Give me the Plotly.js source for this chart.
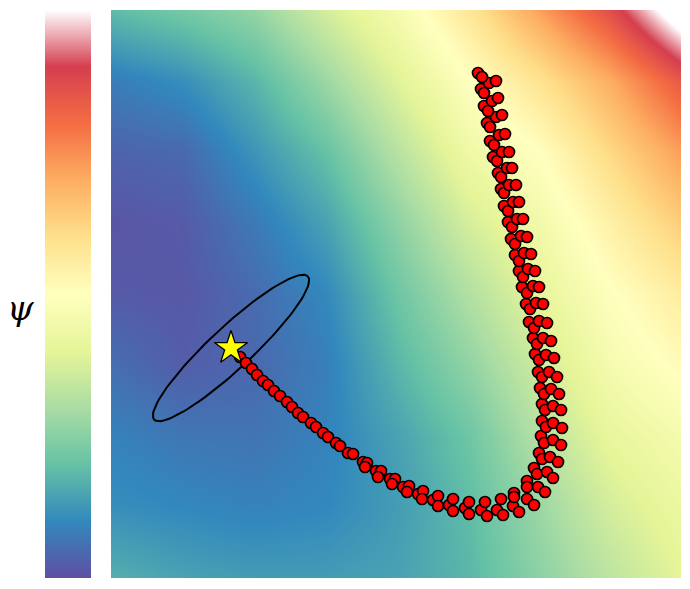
<!DOCTYPE html>
<html>
<head>
<meta charset="utf-8">
<script src="https://cdn.plot.ly/plotly-3.0.1.min.js"></script>
<style>
  html, body { margin: 0; padding: 0; background: #fff; }
  #chart { width: 690px; height: 589px; }
</style>
</head>
<body>
<div id="chart"></div>
<script>
// grid of the potential field (coarse, library interpolates)
const gridX = [0, 71, 143, 214, 285, 356, 428, 499, 570];
const gridY = [0, 71, 142, 213, 284, 355, 426, 497, 568];
const psi = [
    [0.167, 0.144, 0.133, 0.133, 0.144, 0.178, 0.256, 0.33, 0.40],
    [0.111, 0.10, 0.09, 0.10, 0.133, 0.189, 0.278, 0.37, 0.424],
    [0.09, 0.07, 0.065, 0.09, 0.144, 0.211, 0.32, 0.412, 0.459],
    [0.055, 0.025, 0.045, 0.085, 0.178, 0.261, 0.36, 0.459, 0.513],
    [0.02, 0.015, 0.05, 0.10, 0.211, 0.31, 0.406, 0.494, 0.56],
    [0.01, 0.02, 0.075, 0.144, 0.256, 0.37, 0.447, 0.547, 0.638],
    [0.035, 0.045, 0.122, 0.20, 0.32, 0.435, 0.50, 0.613, 0.725],
    [0.08, 0.111, 0.178, 0.278, 0.39, 0.494, 0.587, 0.70, 0.844],
    [0.189, 0.222, 0.267, 0.37, 0.459, 0.573, 0.72, 0.867, 1.067]
];

// trajectory samples
const trajX = [
    129, 135, 141, 146, 152, 157, 163, 169, 176, 181, 187, 192, 200, 205, 212, 217,
    225, 229, 237, 242, 252, 256, 254, 265, 270, 267, 279, 284, 281, 292, 298, 296,
    307, 312, 311, 322, 327, 327, 338, 342, 342, 354, 358, 358, 370, 374, 376, 386,
    390, 392, 402, 403, 408, 403, 416, 423, 416, 416, 427, 434, 423, 426, 436, 442,
    428, 431, 439, 447, 430, 433, 442, 450, 431, 435, 442, 451, 431, 434, 442, 450,
    429, 433, 440, 448, 427, 431, 438, 446, 424, 428, 435, 443, 422, 426, 432, 440,
    418, 423, 428, 436, 415, 419, 425, 432, 411, 416, 422, 428, 408, 412, 417, 424,
    404, 408, 413, 420, 400, 404, 410, 416, 397, 401, 406, 412, 393, 397, 402, 408,
    390, 393, 398, 405, 387, 390, 396, 401, 382, 386, 391, 398, 379, 383, 388, 394,
    376, 379, 385, 391, 373, 377, 381, 387, 370, 373, 378, 385, 367, 371
];
const trajY = [
    221, 215, 209, 203, 197, 193, 187, 182, 176, 171, 165, 161, 155, 151, 145, 141,
    135, 132, 125, 124, 116, 115, 111, 107, 107, 101, 99, 99, 94, 91, 92, 86,
    84, 87, 79, 78, 82, 72, 73, 79, 67, 70, 76, 64, 68, 76, 62, 68,
    79, 63, 72, 85, 66, 81, 79, 73, 97, 91, 91, 86, 110, 104, 106, 100,
    125, 119, 121, 116, 142, 135, 138, 133, 157, 151, 155, 150, 174, 168, 172, 168,
    190, 184, 189, 184, 206, 201, 206, 201, 224, 218, 223, 220, 240, 234, 240, 237,
    256, 250, 257, 255, 274, 269, 275, 274, 291, 285, 292, 291, 307, 301, 309, 307,
    323, 317, 325, 324, 339, 334, 342, 341, 356, 351, 359, 359, 372, 367, 376, 376,
    389, 385, 393, 393, 405, 401, 410, 410, 421, 417, 426, 426, 437, 433, 443, 444,
    455, 451, 461, 463, 472, 467, 477, 480, 489, 485, 495, 497, 505, 501
];

// start point and its spread ellipse
const startX = [120];
const startY = [230];
const ellipseCenter = [120, 230];
const ellipseAxes = [105, 21];
const ellipseAngle = 43; // degrees

// Spectral reversed, top end fading out to white
const spectral = [
    [0, '#5e4fa2'], [0.1, '#3288bd'], [0.2, '#66c2a5'], [0.3, '#abdda4'],
    [0.4, '#e6f598'], [0.5, '#ffffbf'], [0.6, '#fee08b'], [0.7, '#fdae61'],
    [0.8, '#f46d43'], [0.9, '#d53e4f'], [1, '#ffffff']
];

// outline of the ellipse
function ellipseOutline() {
    const ex = [], ey = [];
    const th = ellipseAngle * Math.PI / 180;
    for (let i = 0; i <= 120; i++) {
        const t = 2 * Math.PI * i / 120;
        const u = ellipseAxes[0] * Math.cos(t);
        const v = ellipseAxes[1] * Math.sin(t);
        ex.push(ellipseCenter[0] + u * Math.cos(th) - v * Math.sin(th));
        ey.push(ellipseCenter[1] + u * Math.sin(th) + v * Math.cos(th));
    }
    return [ex, ey];
}

const outline = ellipseOutline();

let data = [
    {
        type: 'heatmap',
        x: gridX,
        y: gridY,
        z: psi,
        zsmooth: 'best',
        zmin: 0,
        zmax: 1,
        colorscale: spectral,
        hoverinfo: 'skip',
        colorbar: {
            x: 0, xanchor: 'left', xref: 'paper',
            y: 0.5, yanchor: 'middle',
            len: 1, lenmode: 'fraction',
            thickness: 46, thicknessmode: 'pixels',
            xpad: 0, ypad: 0,
            outlinewidth: 0,
            showticklabels: false,
            ticks: ''
        }
    },
    {
        type: 'scatter',
        mode: 'lines',
        x: outline[0],
        y: outline[1],
        line: { color: '#000', width: 2 },
        hoverinfo: 'skip'
    },
    {
        type: 'scatter',
        mode: 'markers',
        x: trajX,
        y: trajY,
        marker: { color: '#ff0000', size: 11, line: { color: '#000', width: 1.7 } }
    },
    {
        type: 'scatter',
        mode: 'markers',
        x: startX,
        y: startY,
        marker: { symbol: 'star', color: '#ffff00', size: 25, line: { color: '#000', width: 1.3 } }
    }
];

let layout = {
    width: 690,
    height: 589,
    margin: { t: 10, b: 11, l: 45, r: 9 },
    showlegend: false,
    paper_bgcolor: '#fff',
    plot_bgcolor: '#fff',
    xaxis: { domain: [0.1038, 1], range: [0, 570], visible: false, fixedrange: true },
    yaxis: { range: [0, 568], visible: false, fixedrange: true },
    annotations: [{
        text: 'ψ',
        xref: 'paper', yref: 'paper',
        x: -0.039, y: 0.475,
        xanchor: 'center', yanchor: 'middle',
        showarrow: false,
        font: { family: 'DejaVu Serif', size: 34, style: 'italic', color: '#000' }
    }]
};

Plotly.newPlot('chart', data, layout, { displayModeBar: false, staticPlot: true });
</script>
</body>
</html>
